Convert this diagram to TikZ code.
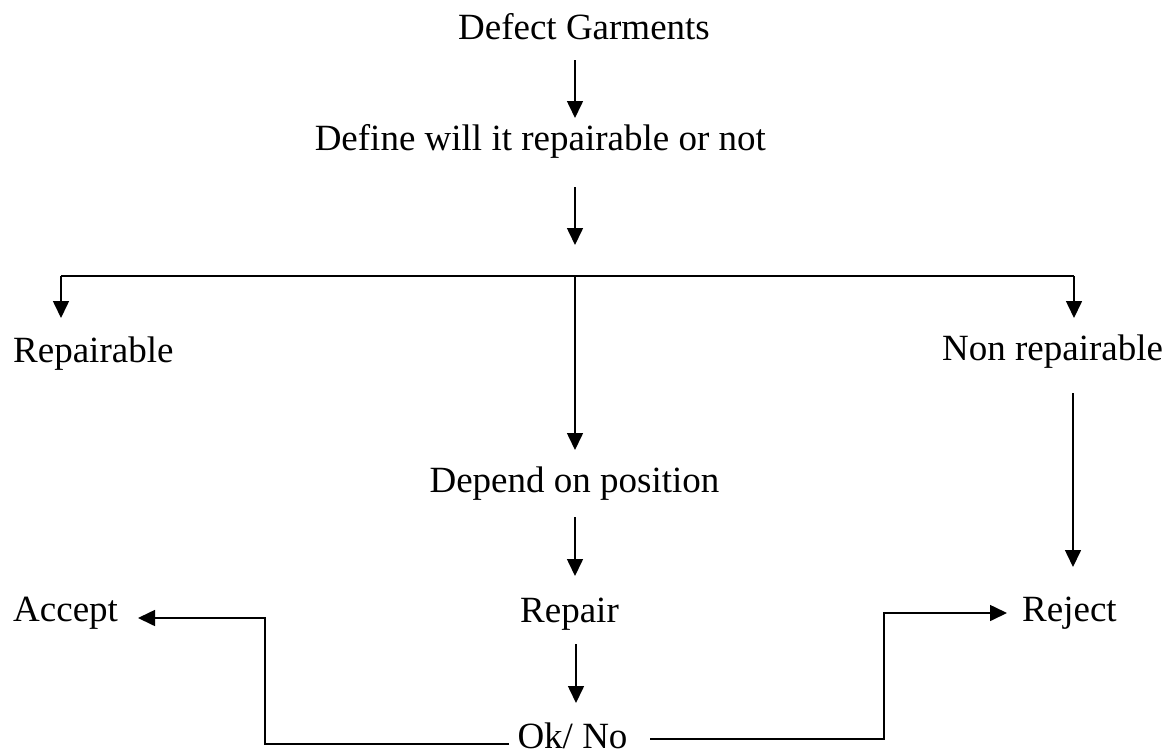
\documentclass[tikz,border=0pt]{standalone}
\usepackage{fontspec}
\setmainfont{Liberation Serif}
\usetikzlibrary{arrows.meta}
\begin{document}
\begin{tikzpicture}[x=1pt,y=-1pt,
  lbl/.style={inner sep=0pt,font=\fontsize{37}{44}\selectfont},
  conn/.style={line width=1.6pt,line cap=butt,line join=miter},
  arr/.style={conn,-{Triangle[length=17pt,width=16pt]}}]
\useasboundingbox (0,0) rectangle (1172,755);
% text nodes
\node[lbl,anchor=base] (dg) at (584,39) {Defect Garments};
\node[lbl,anchor=base east] (def) at (766,150) {Define will it repairable or not};
\node[lbl,anchor=base west] (rp) at (13,362) {Repairable};
\node[lbl,anchor=base west] (nr) at (942,360) {Non repairable};
\node[lbl,anchor=base] (dp) at (574.5,492) {Depend on position};
\node[lbl,anchor=base] (rpr) at (569.5,622) {Repair};
\node[lbl,anchor=base] (ok) at (572.5,748) {Ok/ No};
\node[lbl,anchor=base west] (acc) at (13,621) {Accept};
\node[lbl,anchor=base west] (rej) at (1022,621) {Reject};
% connector points
\coordinate (a1s) at (575,60);   \coordinate (a1e) at (575,118);
\coordinate (a2s) at (575,187);  \coordinate (a2e) at (575,245);
\coordinate (jl) at (61,276);    \coordinate (jm) at (575,276);  \coordinate (jr) at (1074,276);
\coordinate (rpin) at (61,318);  \coordinate (nrin) at (1074,318);
\coordinate (dpin) at (575,450);
\coordinate (a3s) at (575,517);  \coordinate (a3e) at (575,576);
\coordinate (a4s) at (576,644);  \coordinate (a4e) at (576,703);
\coordinate (a5s) at (1073,393); \coordinate (a5e) at (1073,567);
\coordinate (okl) at (509,744);  \coordinate (bl) at (265,744); \coordinate (tl) at (265,618); \coordinate (accin) at (138,618);
\coordinate (okr) at (650,739);  \coordinate (br) at (884,739); \coordinate (tr) at (884,613); \coordinate (rejin) at (1007,613);
% connectors
\draw[arr] (a1s) -- (a1e);
\draw[arr] (a2s) -- (a2e);
\draw[conn] (jl) -- (jr);
\draw[arr] (jl) -- (rpin);
\draw[arr] (jr) -- (nrin);
\draw[arr] (jm) -- (dpin);
\draw[arr] (a3s) -- (a3e);
\draw[arr] (a4s) -- (a4e);
\draw[arr] (a5s) -- (a5e);
\draw[arr] (okl) -- (bl) -- (tl) -- (accin);
\draw[arr] (okr) -- (br) -- (tr) -- (rejin);
\end{tikzpicture}
\end{document}
